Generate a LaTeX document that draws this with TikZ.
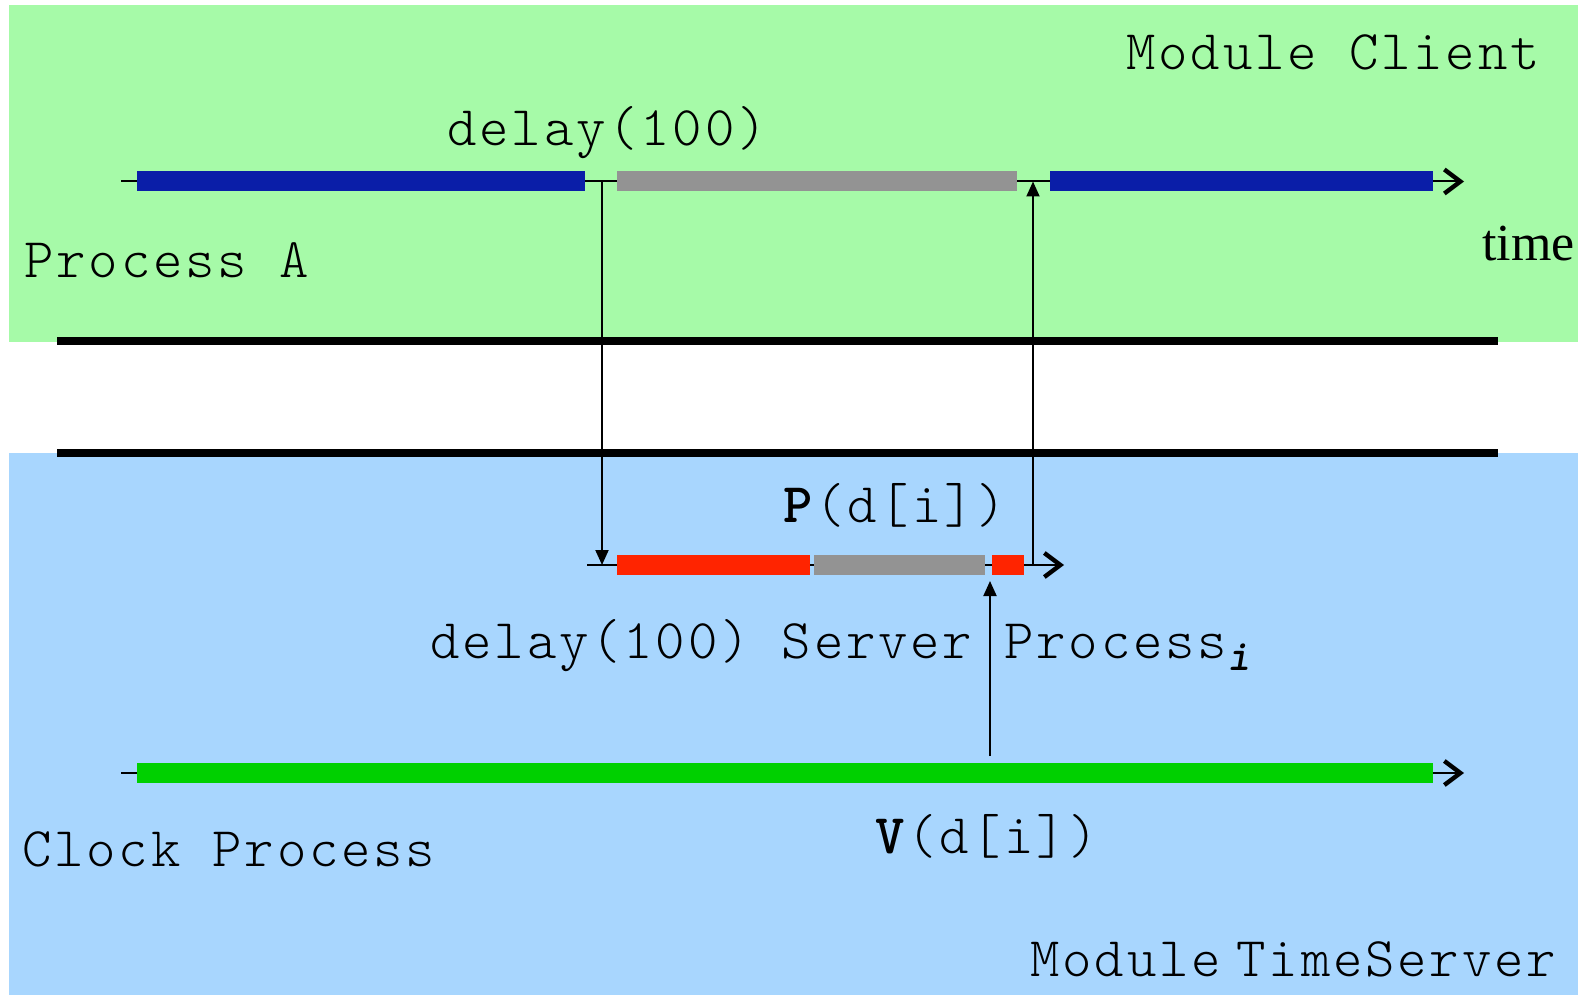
\documentclass[tikz,border=0pt]{standalone}
\usepackage{fontspec}
\setmainfont{Liberation Serif}
\newfontfamily\courfont{lmmonolt10-regular}[Extension=.otf, BoldFont=lmmonolt10-bold, LetterSpace=5]
\newfontfamily\subfont{lmmonolt10-boldoblique}[Extension=.otf]
\usetikzlibrary{arrows.meta}
\definecolor{clientbg}{HTML}{A6FAA8}
\definecolor{serverbg}{HTML}{A8D6FE}
\definecolor{runblue}{HTML}{0A1EA8}
\definecolor{waitgray}{HTML}{939393}
\definecolor{runred}{HTML}{FF2400}
\definecolor{rungreen}{HTML}{00D000}
\tikzset{
  lbl/.style={anchor=base west, inner sep=0pt, font=\fontsize{28}{32}\selectfont\courfont},
  axis/.style={line width=1pt, -{Straight Barb[length=8pt,width=12pt,line width=2.2pt]}},
  msg/.style={line width=1pt, -{Triangle[length=7.5pt,width=6.5pt]}},
  bar/.style={line width=10pt},
  sep/.style={line width=4pt, black}
}
\begin{document}
\begin{tikzpicture}[x=0.5pt,y=-0.5pt]
\useasboundingbox (0,0) rectangle (1581,995);
% backgrounds
\fill[clientbg] (9,5) rectangle (1578,342);
\fill[serverbg] (9,453) rectangle (1578,995);
\draw[sep] (57,341) -- (1498,341);
\draw[sep] (57,453) -- (1498,453);
% timeline coordinates
\coordinate (a0) at (121,181.5);
\coordinate (a1) at (1464,181.5);
\coordinate (s0) at (587,565);
\coordinate (s1) at (1064,565);
\coordinate (c0) at (121,773);
\coordinate (c1) at (1464,773);
% axes
\draw[axis] (a0) -- (a1);
\draw[axis] (s0) -- (s1);
\draw[axis] (c0) -- (c1);
% bars
\draw[bar, runblue] (137,181.5) -- (585,181.5);
\draw[bar, waitgray] (617,181.5) -- (1017,181.5);
\draw[bar, runblue] (1050,181.5) -- (1433,181.5);
\draw[bar, runred] (617,565) -- (810,565);
\draw[bar, waitgray] (814,565) -- (985,565);
\draw[bar, runred] (992,565) -- (1024,565);
\draw[bar, rungreen] (137,773) -- (1433,773);
% messages
\coordinate (d0) at (602,181.5);
\coordinate (d1) at (602,565);
\coordinate (u0) at (1033,565);
\coordinate (u1) at (1033,181.5);
\coordinate (v0) at (990,756);
\coordinate (v1) at (990,581);
\draw[msg] (d0) -- (d1);
\draw[msg] (u0) -- (u1);
\draw[msg] (v0) -- (v1);
% labels
\node[lbl, anchor=base east] (mc) at (1540,70) {Module Client};
\node[lbl] (dl1) at (447,146) {delay(100)};
\node[lbl] (pa) at (24,278) {Process A};
\node[anchor=base west, inner sep=0pt, font=\fontsize{26}{30}\selectfont\rmfamily] (tm) at (1482,260) {time};
\node[lbl] (pd) at (783,522) {\textbf{P}(d[i])};
\node[lbl] (sp) at (430,658) {delay(100) Server Process\raisebox{-6pt}{\fontsize{22}{22}\selectfont\subfont i}};
\node[lbl] (vd) at (875,853) {\textbf{V}(d[i])};
\node[lbl] (cp) at (22,866) {Clock Process};
\node[lbl] (mt) at (1030,976) {Module\hspace{8pt}TimeServer};
\end{tikzpicture}
\end{document}
